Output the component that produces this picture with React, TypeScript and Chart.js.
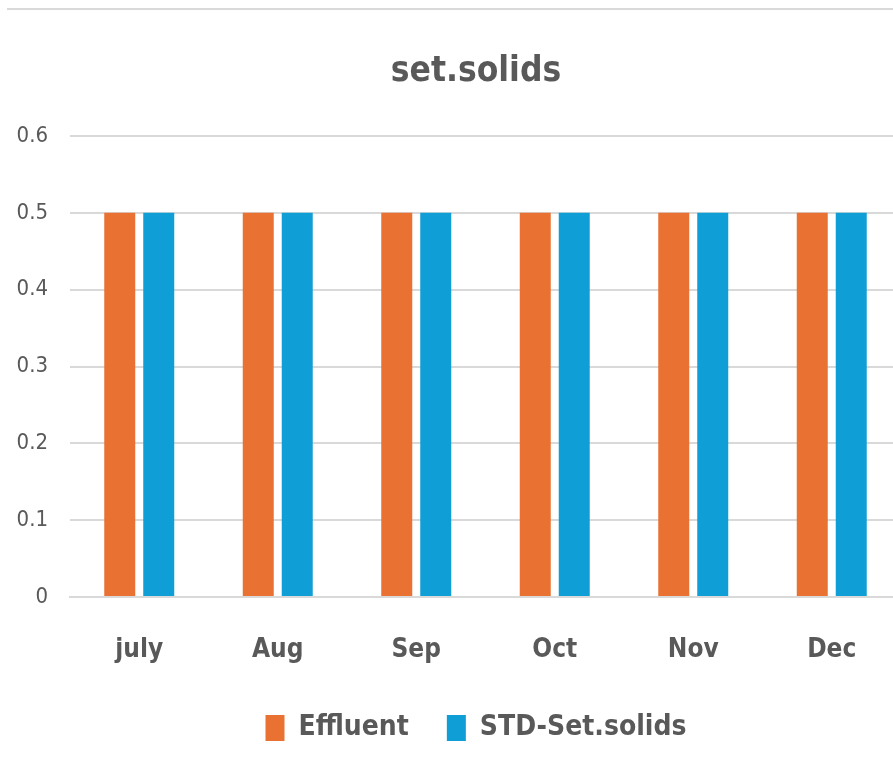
import React, { useEffect, useRef } from "react";
import { Chart, registerables } from "chart.js";

Chart.register(...registerables);

const categories = ["july", "Aug", "Sep", "Oct", "Nov", "Dec"];
const effluent = [0.5, 0.5, 0.5, 0.5, 0.5, 0.5];
const stdSetSolids = [0.5, 0.5, 0.5, 0.5, 0.5, 0.5];
const seriesNames = ["Effluent", "STD-Set.solids"];
const yMin = 0;
const yMax = 0.6;
const yStep = 0.1;

const FONT = "'Liberation Sans Narrow', 'DejaVu Sans Condensed', 'Roboto', sans-serif";
const TEXT = "#595959";
const W = 952;
const H = 782;

export default function App() {
  const ref = useRef<HTMLCanvasElement | null>(null);
  useEffect(() => {
    if (!ref.current) return;
    const chart = new Chart(ref.current, {
      type: "bar",
      data: {
        labels: categories,
        datasets: [
          {
            label: seriesNames[0],
            data: effluent,
            backgroundColor: "#E97132",
            categoryPercentage: 0.563,
            barPercentage: 0.795,
          },
          {
            label: seriesNames[1],
            data: stdSetSolids,
            backgroundColor: "#0F9ED5",
            categoryPercentage: 0.563,
            barPercentage: 0.795,
          },
        ],
      },
      options: {
        animation: false,
        responsive: false,
        maintainAspectRatio: false,
        layout: { padding: { left: 0, right: 0, top: 0, bottom: 30 } },
        plugins: {
          title: {
            display: true,
            text: "set.solids",
            color: TEXT,
            font: { family: FONT, size: 35, weight: "bold" },
            padding: { top: 51, bottom: 43 },
          },
          legend: {
            position: "bottom",
            labels: {
              color: TEXT,
              font: { family: FONT, size: 28, weight: "bold" },
              boxWidth: 19,
              boxHeight: 26,
              padding: 38,
            },
          },
          tooltip: { enabled: false },
        },
        scales: {
          x: {
            grid: { display: false },
            border: { display: true, color: "#d9d9d9", width: 2 },
            ticks: {
              color: TEXT,
              padding: 30,
              font: { family: FONT, size: 26, weight: "bold" },
            },
            afterFit: (scale: any) => {
              scale.height = 79;
            },
          },
          y: {
            min: yMin,
            max: yMax,
            grid: { color: "#d9d9d9", lineWidth: 2, drawTicks: false },
            border: { display: false },
            ticks: {
              stepSize: yStep,
              color: TEXT,
              padding: 22,
              font: { family: FONT, size: 22 },
              callback: (v: any) => (Math.round(Number(v) * 10) / 10).toString(),
            },
            afterFit: (scale: any) => {
              scale.width = 70;
            },
          },
          yRight: {
            position: "right",
            min: yMin,
            max: yMax,
            grid: { display: false, drawTicks: false },
            border: { display: false },
            ticks: { display: false },
            afterFit: (scale: any) => {
              scale.width = 51;
            },
          },
        },
      },
    });
    return () => chart.destroy();
  }, []);
  return (
    <div
      style={{
        position: "fixed",
        left: 0,
        top: 0,
        width: 893,
        height: 782,
        overflow: "hidden",
        background: "#fff",
      }}
    >
      <div
        style={{
          position: "absolute",
          left: 7,
          top: 8,
          width: 950,
          height: 2,
          background: "#d9d9d9",
        }}
      />
      <canvas
        ref={ref}
        width={W}
        height={H}
        style={{ position: "absolute", left: 0, top: 0, width: W, height: H }}
      />
    </div>
  );
}
